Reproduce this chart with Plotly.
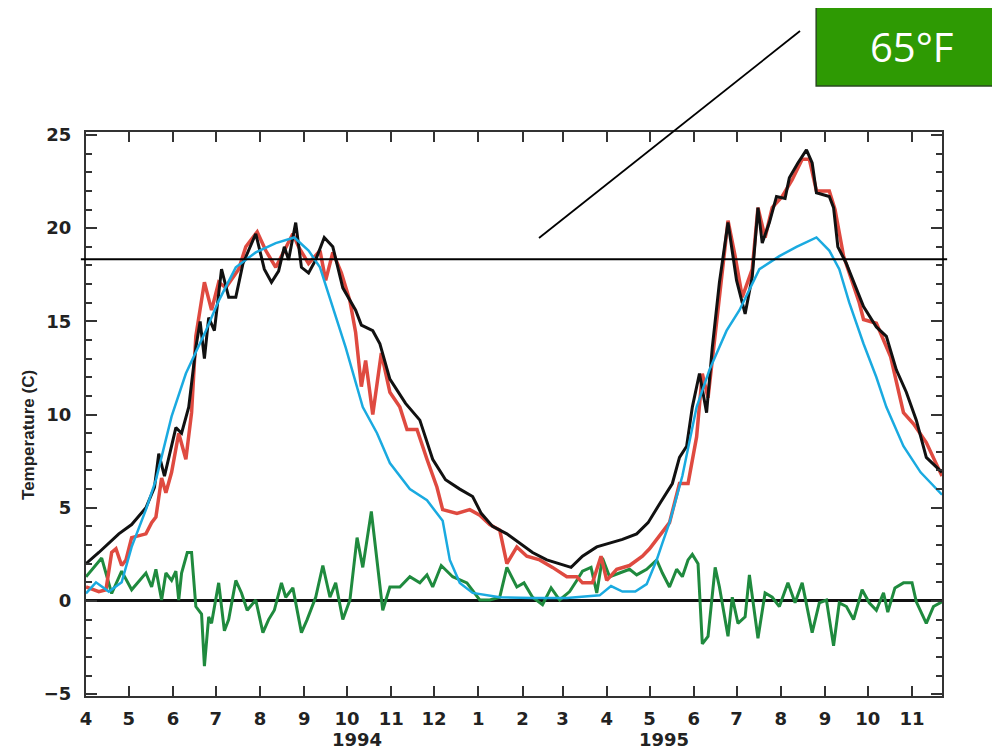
import pandas as pd
import plotly.graph_objects as go

START = "1994-04-01"
END = "1995-11-22"

# Observed water temperature (black), days since 1994-04-01
black_days = [0, 9, 23, 32, 42, 48, 51, 55, 63, 67, 72, 77, 80, 83, 86, 90, 95, 100, 105, 110,
              119, 125, 130, 135, 139, 142, 147, 151, 156, 161, 167, 173, 180, 189, 193, 201, 206,
              213, 224, 234, 243, 252, 262, 271, 277, 285, 295, 304, 313, 323, 332, 340, 348, 358,
              367, 376, 386, 394, 402, 407, 411, 416, 421, 425, 430, 435, 439, 444, 450, 456, 462,
              467, 471, 474, 479, 484, 490, 493, 499, 505, 509, 512, 516, 521, 524, 527, 533, 540,
              545, 554, 561, 568, 575, 582, 589, 600]
black_vals = [2.0, 2.6, 3.6, 4.1, 5.0, 6.1, 7.9, 6.7, 9.3, 9.0, 10.4, 13.6, 15.0, 13.0, 15.2, 14.5,
              17.8, 16.3, 16.3, 18.1, 19.7, 17.8, 17.1, 17.7, 19.0, 18.3, 20.3, 17.9, 17.6, 18.3,
              19.5, 19.0, 16.8, 15.6, 14.8, 14.5, 13.8, 11.9, 10.6, 9.7, 7.6, 6.5, 6.0, 5.6, 4.7,
              4.0, 3.6, 3.1, 2.6, 2.2, 2.0, 1.8, 2.4, 2.9, 3.1, 3.3, 3.6, 4.2, 5.2, 5.8, 6.3, 7.7,
              8.3, 10.4, 12.2, 10.1, 13.6, 17.1, 20.3, 17.2, 15.4, 17.4, 21.1, 19.2, 20.3, 21.7,
              21.6, 22.7, 23.5, 24.2, 23.5, 21.9, 21.8, 21.7, 21.1, 19.0, 18.1, 16.7, 15.8, 14.7,
              14.2, 12.4, 11.2, 9.7, 7.7, 6.9]

# Model temperature (red)
red_days = [0, 9, 14, 18, 21, 25, 28, 32, 42, 46, 49, 53, 56, 60, 65, 70, 74, 77, 83, 88, 93, 98,
            107, 112, 120, 126, 133, 139, 145, 149, 156, 164, 168, 173, 179, 185, 189, 193, 196,
            201, 207, 213, 220, 225, 232, 239, 246, 250, 260, 269, 276, 283, 290, 295, 302, 309,
            318, 327, 337, 344, 348, 355, 361, 365, 372, 381, 390, 395, 409, 416, 422, 428, 432,
            436, 439, 444, 450, 455, 460, 467, 471, 476, 481, 488, 495, 502, 507, 512, 521, 525,
            531, 542, 545, 554, 564, 573, 580, 589, 600]
red_vals = [0.75, 0.5, 0.6, 2.6, 2.8, 1.9, 2.2, 3.4, 3.6, 4.2, 4.5, 6.6, 5.8, 6.9, 9.0, 7.6, 10.1,
            14.2, 17.1, 15.6, 17.1, 16.8, 17.8, 19.0, 19.8, 18.8, 17.9, 18.8, 19.7, 19.0, 18.1,
            18.8, 17.2, 18.7, 17.6, 16.1, 14.4, 11.5, 12.9, 10.0, 13.3, 11.2, 10.4, 9.2, 9.2, 7.6,
            6.1, 4.9, 4.7, 4.9, 4.6, 4.1, 3.8, 2.0, 2.9, 2.4, 2.2, 1.8, 1.3, 1.3, 0.97, 0.97, 2.4,
            1.1, 1.7, 1.9, 2.4, 2.8, 4.2, 6.3, 6.3, 8.8, 12.2, 10.9, 12.8, 16.3, 20.4, 18.5, 16.3,
            17.8, 21.1, 19.5, 21.1, 21.7, 22.6, 23.7, 23.7, 22.0, 22.0, 21.0, 18.5, 16.0, 15.1,
            14.9, 13.1, 10.1, 9.5, 8.5, 6.7]

# Smooth temperature (cyan)
cyan_days = [0, 7, 16, 25, 32, 42, 49, 56, 60, 70, 84, 93, 105, 119, 133, 146, 156, 164, 173, 182,
             194, 204, 213, 227, 239, 250, 255, 262, 271, 290, 313, 337, 360, 368, 376, 385, 393,
             400, 404, 409, 418, 428, 437, 449, 458, 472, 486, 498, 512, 521, 528, 535, 545, 554,
             561, 573, 585, 600]
cyan_vals = [0.4, 1.0, 0.5, 1.0, 2.9, 4.9, 6.5, 8.6, 9.9, 12.2, 14.5, 16.1, 17.9, 18.7, 19.2, 19.5,
             18.8, 17.9, 15.8, 13.6, 10.4, 9.0, 7.4, 6.0, 5.4, 4.3, 2.2, 0.97, 0.43, 0.2, 0.16, 0.16,
             0.3, 0.8, 0.5, 0.5, 0.9, 2.2, 3.1, 4.2, 6.7, 10.4, 12.4, 14.5, 15.6, 17.8, 18.5, 19.0,
             19.5, 18.8, 17.8, 16.0, 13.8, 12.0, 10.4, 8.3, 6.9, 5.7]

# Difference (green)
green_days = [0, 11, 18, 25, 32, 42, 46, 49, 53, 56, 60, 63, 65, 67, 71, 74, 77, 81, 83, 86, 88, 93,
              97, 100, 105, 109, 113, 119, 124, 128, 132, 137, 140, 145, 151, 155, 161, 166, 171,
              175, 180, 185, 190, 194, 200, 204, 208, 213, 220, 227, 234, 239, 243, 249, 257, 267,
              276, 283, 290, 295, 302, 307, 313, 320, 326, 332, 339, 344, 348, 354, 358, 362, 367,
              374, 381, 386, 393, 400, 404, 409, 414, 418, 422, 425, 429, 432, 436, 441, 444, 450,
              453, 457, 462, 465, 471, 476, 481, 486, 492, 497, 502, 509, 514, 519, 524, 528, 533,
              538, 544, 549, 554, 559, 562, 567, 573, 579, 582, 589, 594, 600]
green_vals = [1.3, 2.3, 0.4, 1.6, 0.6, 1.5, 0.75, 1.7, 0.05, 1.5, 1.1, 1.6, 0.05, 1.5, 2.6, 2.6,
              -0.3, -0.7, -3.5, -0.85, -1.2, 0.97, -1.6, -1.0, 1.1, 0.43, -0.5, 0.05, -1.7, -1.0,
              -0.5, 0.97, 0.2, 0.7, -1.7, -1.0, 0.2, 1.9, 0.2, 0.97, -1.0, 0.05, 3.4, 1.8, 4.8, 2.0,
              -0.5, 0.75, 0.75, 1.3, 0.97, 1.4, 0.75, 1.9, 1.3, 0.97, 0.05, 0.05, 0.2, 1.8, 0.75,
              0.97, 0.2, -0.2, 0.7, 0.05, 0.5, 1.1, 1.6, 1.8, 0.43, 2.3, 1.3, 1.5, 1.7, 1.4, 1.7,
              2.2, 1.5, 0.75, 1.7, 1.3, 2.2, 2.5, 2.0, -2.3, -1.9, 1.8, 0.75, -1.9, 0.2, -1.2,
              -0.85, 1.4, -2.0, 0.43, 0.2, -0.3, 0.97, -0.1, 0.97, -1.7, -0.1, 0.05, -2.4, -0.1,
              -0.3, -1.0, 0.6, -0.1, -0.5, 0.43, -0.6, 0.7, 0.97, 0.97, -0.05, -1.2, -0.3, -0.05]

month_ticks = pd.date_range("1994-04-01", "1995-11-01", freq="MS")
month_labels = [str(d.month) for d in month_ticks]
year_labels = ["1994", "1995"]
year_label_dates = ["1994-10-08", "1995-05-11"]

THRESHOLD_F = 65
threshold_c = (THRESHOLD_F - 32) * 5 / 9
Y_RANGE = [-5.1, 25.16]

base = pd.Timestamp(START)
def to_dates(days):
    return base + pd.to_timedelta(days, unit="D")

fig = go.Figure()
fig.add_trace(go.Scatter(x=to_dates(green_days), y=green_vals, mode="lines",
                         line=dict(color="#1f8a3e", width=3), showlegend=False))
fig.add_trace(go.Scatter(x=to_dates(red_days), y=red_vals, mode="lines",
                         line=dict(color="#df4a40", width=3.5), showlegend=False))
fig.add_trace(go.Scatter(x=to_dates(black_days), y=black_vals, mode="lines",
                         line=dict(color="#111111", width=3), showlegend=False))
fig.add_trace(go.Scatter(x=to_dates(cyan_days), y=cyan_vals, mode="lines",
                         line=dict(color="#1aaae0", width=2.5), showlegend=False))

tickfont = dict(family="DejaVu Sans, sans-serif", size=18, color="#222222", weight="bold")

fig.update_xaxes(type="date", range=[START, END], tickvals=month_ticks, ticktext=month_labels,
                 ticks="inside", ticklen=10, tickwidth=2, tickcolor="#333333",
                 showline=True, linewidth=2, linecolor="#333333", mirror="ticks",
                 showgrid=False, zeroline=False, tickfont=tickfont, ticklabelstandoff=5)
fig.update_yaxes(range=Y_RANGE, tick0=0, dtick=5, ticks="inside", ticklen=11, tickwidth=2,
                 tickcolor="#333333", showline=True, linewidth=2, linecolor="#333333",
                 mirror="ticks", showgrid=False, zeroline=True, zerolinecolor="#111111",
                 zerolinewidth=3, tickfont=tickfont, ticklabelstandoff=9,
                 minor=dict(dtick=1, ticks="inside", ticklen=6, tickwidth=1.5, tickcolor="#333333"))

y_paper = (threshold_c - Y_RANGE[0]) / (Y_RANGE[1] - Y_RANGE[0])
shapes = [
    dict(type="line", xref="paper", yref="paper", x0=-0.006, x1=1.006, y0=y_paper, y1=y_paper,
         line=dict(color="#000000", width=2)),
    dict(type="line", xref="paper", yref="paper", x0=0.5292, y0=0.8121, x1=0.8341, y1=1.1791,
         line=dict(color="#000000", width=1.8)),
    dict(type="rect", xref="paper", yref="paper", x0=0.853, x1=1.075, y0=1.0816, y1=1.2234,
         fillcolor="#2e9a03", line=dict(color="#2a4a20", width=1.5)),
]

annotations = [
    dict(text=f"{THRESHOLD_F}°F", xref="paper", yref="paper", x=0.965, y=1.152, showarrow=False,
         font=dict(family="Open Sans, Lato, sans-serif", size=40, color="#ffffff"),
         xanchor="center", yanchor="middle"),
    dict(text="Temperature (C)", xref="paper", yref="paper", x=-0.0666, y=0.4628, textangle=-90,
         showarrow=False, font=dict(family="Liberation Sans, Arial, sans-serif", size=17,
                                    color="#222222", weight="bold"),
         xanchor="center", yanchor="middle"),
]
for lbl, d in zip(year_labels, year_label_dates):
    annotations.append(dict(text=lbl, xref="x", yref="paper", x=d, y=-0.077, showarrow=False,
                            font=tickfont, xanchor="center", yanchor="middle"))

# page body has an 8px margin: shrink the figure so the plot lands where the reference has it
fig.update_layout(width=992, height=743, margin=dict(l=78, r=58, t=124, b=55),
                  paper_bgcolor="white", plot_bgcolor="white", showlegend=False,
                  shapes=shapes, annotations=annotations)

fig.write_html("out.html")
